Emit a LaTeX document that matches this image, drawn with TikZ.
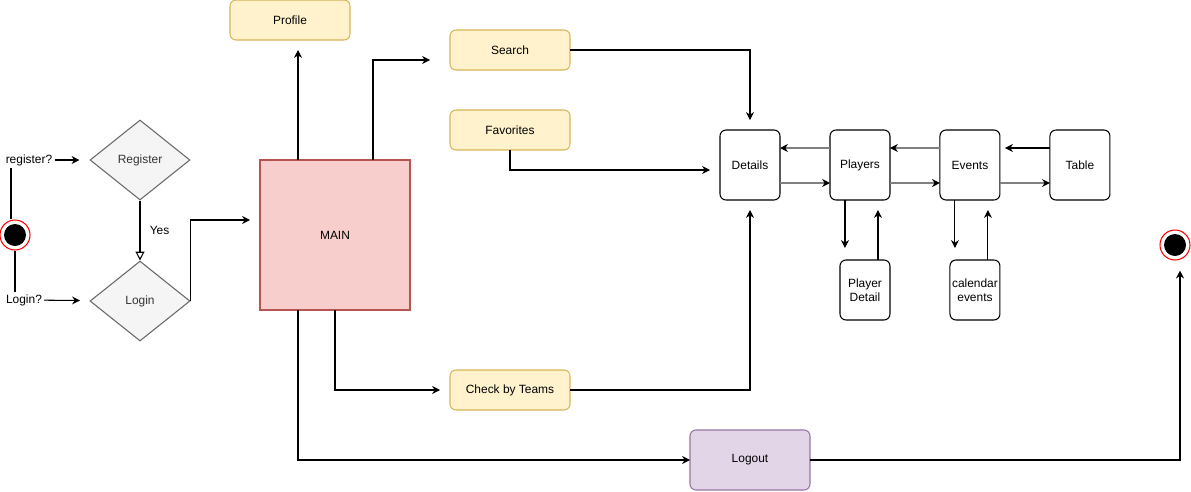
\documentclass[tikz,border=0pt]{standalone}
\usepackage{fontspec}
\setmainfont{Liberation Sans}
\usepackage{xcolor}
\usetikzlibrary{positioning,shapes.geometric,arrows.meta}

\definecolor{YL_FILL}{HTML}{FFF2CC}
\definecolor{YL_LINE}{HTML}{D6B656}
\definecolor{MN_FILL}{HTML}{F8CECC}
\definecolor{MN_LINE}{HTML}{B85450}
\definecolor{LG_FILL}{HTML}{E1D5E7}
\definecolor{LG_LINE}{HTML}{9673A6}
\definecolor{DC_FILL}{HTML}{F5F5F5}
\definecolor{DC_LINE}{HTML}{666666}

\tikzstyle{small_font} = [font=\fontsize{6.8}{8}\selectfont]
\tikzstyle{box}      = [rectangle, draw, small_font, align=center, outer sep=0pt]
\tikzstyle{round_box} = [box, rounded corners=3.4pt]
\tikzstyle{YL_BOX}   = [round_box, fill=YL_FILL, draw=YL_LINE, minimum width=2.4cm, minimum height=0.8cm]
\tikzstyle{MAIN_BOX} = [box, fill=MN_FILL, draw=MN_LINE, minimum width=3cm, minimum height=3cm]
\tikzstyle{LG_BOX}   = [round_box, fill=LG_FILL, draw=LG_LINE, minimum width=2.4cm, minimum height=1.2cm]
\tikzstyle{STEP_BOX} = [round_box, fill=white, minimum width=1.2cm, minimum height=1.4cm]
\tikzstyle{SUB_BOX}  = [round_box, fill=white, minimum width=1cm, minimum height=1.2cm, inner sep=0pt]
\tikzstyle{DECISION} = [diamond, aspect=1.25, draw=DC_LINE, fill=DC_FILL, text=black!80, small_font, minimum width=2cm, minimum height=1.6cm, inner sep=0pt]
\tikzstyle{TXT}      = [small_font, inner sep=1pt]
\tikzstyle{STATE}    = [circle, draw=red, fill=white, minimum size=0.6cm, inner sep=0pt,
                        path picture={\fill[black] (path picture bounding box.center) circle (0.22cm);}]
\tikzstyle{link}     = [-{Stealth[length=4.5pt,width=4.5pt,black]}]
\tikzstyle{grey_link} = [link, draw=black!50]

\begin{document}
\begin{tikzpicture}[x=0.02cm, y=-0.02cm, node distance=1cm and 1cm, line width=0.6pt]
  \useasboundingbox (0,0) rectangle (1191,491);

  % start and decisions
  \node[STATE] (START) at (15,235) {};
  \node[TXT] (REG_Q) at (29,160) {register?};
  \node[TXT] (LGN_Q) at (24,300) {Login?};
  \node[DECISION] (REG) at (140,160) {Register};
  \node[DECISION, below=1.2cm of REG] (LGN) {Login};

  % main and menu
  \node[MAIN_BOX] (MAIN) at (335,235) {MAIN};
  \node[YL_BOX] (PROFILE) at (290,20) {Profile};
  \node[YL_BOX] (SEARCH) at (510,50) {Search};
  \node[YL_BOX, below=0.8cm of SEARCH] (FAV) {Favorites};
  \node[YL_BOX] (TEAMS) at (510,390) {Check by Teams};
  \node[LG_BOX] (LOGOUT) at (750,460) {Logout};
  \node[STATE] (END) at (1175,245) {};

  % detail chain
  \node[STEP_BOX] (DET) at (750,165) {Details};
  \node[STEP_BOX, right=of DET] (PLY) {Players};
  \node[STEP_BOX, right=of PLY] (EVT) {Events};
  \node[STEP_BOX, right=of EVT] (TBL) {Table};
  \node[SUB_BOX, below=1.2cm of PLY.south east, anchor=north east] (PD) {Player\\Detail};
  \node[SUB_BOX, below=1.2cm of EVT.south east, anchor=north east] (CE) {calendar\\events};

  % connectors on the left
  \draw ([xshift=-0.08cm]START.north) -- ([xshift=-0.08cm]START.north |- REG_Q.south);
  \draw (START.south) -- (START.south |- LGN_Q.north);
  \draw[link, shorten >=0.2cm] (REG_Q) -- (REG);
  \draw[link, shorten >=0.2cm] (LGN_Q) -- (LGN);
  \draw[-{Triangle[open,length=5pt,width=5pt]}] (REG) -- node[TXT, right=0.15cm] {Yes} (LGN);
  \draw[link, shorten >=0.2cm] (LGN.east) |- ([yshift=0.3cm]MAIN.west);

  % connectors from main
  \draw[link, shorten >=0.2cm] ([xshift=-0.74cm]MAIN.north) -- ([xshift=-0.74cm]MAIN.north |- PROFILE.south);
  \draw[link, shorten >=0.4cm] ([xshift=0.76cm]MAIN.north) |- ([yshift=-0.2cm]SEARCH.west);
  \draw[link, shorten >=0.2cm] (MAIN.south) |- (TEAMS.west);
  \draw[link] ([xshift=-0.74cm]MAIN.south) |- (LOGOUT.west);
  \draw[link, shorten >=0.2cm] (LOGOUT.east) -| ([xshift=0.1cm]END.south);

  % into details
  \draw[link, shorten >=0.2cm] (SEARCH.east) -| (DET.north);
  \draw[link, shorten >=0.2cm] (FAV.south) |- ([yshift=-0.1cm]DET.west);
  \draw[link, shorten >=0.2cm] (TEAMS.east) -| (DET.south);

  % detail chain
  \draw[grey_link] ([yshift=0.34cm]PLY.west) -- ([yshift=0.34cm]DET.east);
  \draw[grey_link] ([yshift=-0.36cm]DET.east) -- ([yshift=-0.36cm]PLY.west);
  \draw[grey_link] ([yshift=0.34cm]EVT.west) -- ([yshift=0.34cm]PLY.east);
  \draw[grey_link] ([yshift=-0.36cm]PLY.east) -- ([yshift=-0.36cm]EVT.west);
  \draw[link, shorten >=0.1cm] ([yshift=0.34cm]TBL.west) -- ([yshift=0.34cm]EVT.east);
  \draw[grey_link] ([yshift=-0.36cm]EVT.east) -- ([yshift=-0.36cm]TBL.west);
  \draw[link, shorten >=0.24cm] ([xshift=-0.3cm]PLY.south) -- ([xshift=-0.3cm]PLY.south |- PD.north);
  \draw[link, shorten >=0.2cm] ([xshift=0.36cm]PLY.south |- PD.north) -- ([xshift=0.36cm]PLY.south);
  \draw[link, shorten >=0.24cm] ([xshift=-0.3cm]EVT.south) -- ([xshift=-0.3cm]EVT.south |- CE.north);
  \draw[link, shorten >=0.2cm] ([xshift=0.36cm]EVT.south |- CE.north) -- ([xshift=0.36cm]EVT.south);
\end{tikzpicture}
\end{document}
